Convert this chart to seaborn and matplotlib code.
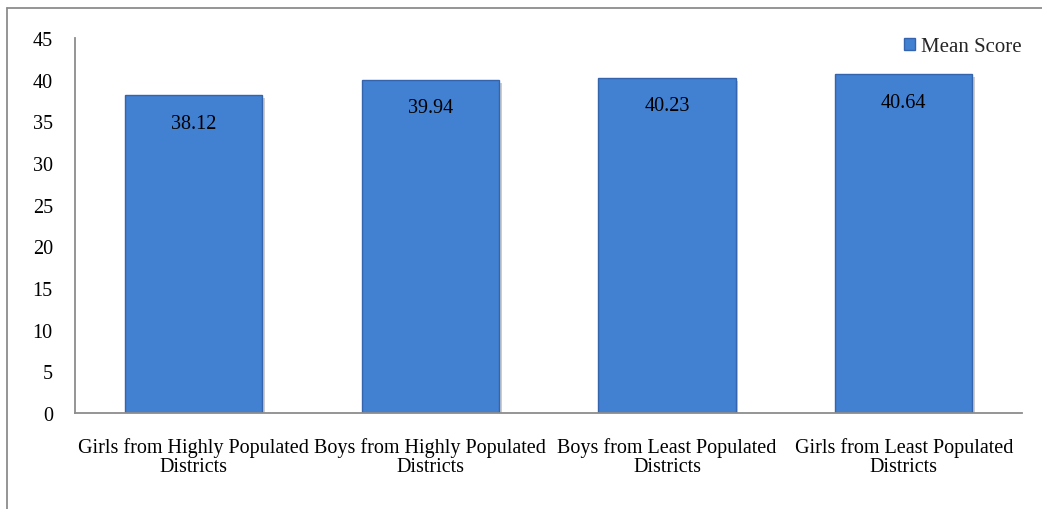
import matplotlib
matplotlib.use("Agg")
import matplotlib.pyplot as plt
import seaborn as sns
import pandas as pd
from matplotlib.lines import Line2D
from matplotlib.patches import Patch
import matplotlib.patheffects as pe

categories = ["Girls from Highly Populated\nDistricts",
              "Boys from Highly Populated\nDistricts",
              "Boys from Least Populated\nDistricts",
              "Girls from Least Populated\nDistricts"]
mean_scores = [38.12, 39.94, 40.23, 40.64]
value_labels = ["38.12", "39.94", "40.23", "40.64"]
y_ticks = [0, 5, 10, 15, 20, 25, 30, 35, 40, 45]
series_name = "Mean Score"

sns.set_theme(style="white")
plt.rcParams['font.family'] = ['Liberation Serif', 'DejaVu Serif']

df = pd.DataFrame({"category": categories, "score": mean_scores})

fig = plt.figure(figsize=(10.42, 5.10), dpi=100)
ax = fig.add_axes([0.072, 0.188, 0.909, 0.7355])

sns.barplot(data=df, x="category", y="score", color="#4280d2", width=0.58,
            edgecolor="#3464ad", linewidth=1.0, saturation=1, ax=ax)

for p in ax.patches:
    p.set_path_effects([pe.SimplePatchShadow(offset=(2, -2), shadow_rgbFace="#9a9a9a", alpha=0.5),
                        pe.Normal()])

for i, (v, lab) in enumerate(zip(mean_scores, value_labels)):
    ax.annotate(lab, xy=(i, v), xytext=(0, -20), textcoords="offset points",
                ha="center", va="center", fontsize=14.5, color="black")

ax.set_ylim(0, 45)
ax.set_yticks(y_ticks)
ax.set_xlim(-0.5, len(categories) - 0.5)
ax.set_xlabel("")
ax.set_ylabel("")
ax.tick_params(axis="y", labelsize=14.5, length=0, pad=16, colors="black")
ax.tick_params(axis="x", labelsize=14.5, length=0, pad=17, colors="black")
for lab in ax.get_xticklabels():
    lab.set_linespacing(1.0)

for s in ["top", "right"]:
    ax.spines[s].set_visible(False)
for s in ["left", "bottom"]:
    ax.spines[s].set_color("#8c8c8c")
    ax.spines[s].set_linewidth(1.3)

handle = Patch(facecolor="#4280d2", edgecolor="#3464ad")
leg = ax.legend([handle], [series_name], loc="upper right", frameon=False,
                fontsize=15, handlelength=0.5, handleheight=0.5, handletextpad=0.3,
                bbox_to_anchor=(1.008, 1.025), borderaxespad=0)

# outer chart frame (partially visible in reference)
fig.add_artist(Line2D([7/1042, 7/1042], [0, 1 - 9/510], transform=fig.transFigure,
                      color="#8c8c8c", linewidth=1.3))
fig.add_artist(Line2D([7/1042, 1], [1 - 9/510, 1 - 9/510], transform=fig.transFigure,
                      color="#8c8c8c", linewidth=1.3))

fig.savefig("out.png", dpi=100, facecolor="white")
